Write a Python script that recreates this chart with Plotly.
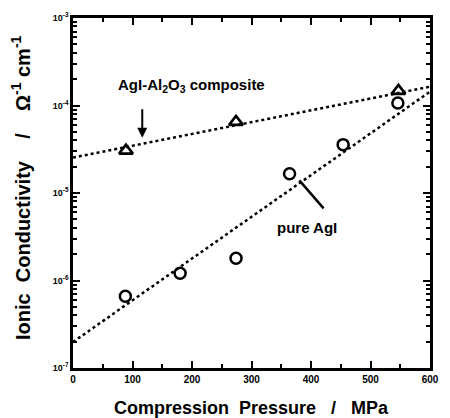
import plotly.graph_objects as go

# Data
pressure_pure = [88, 180, 274, 364, 454, 546]
sigma_pure = [6.6e-7, 1.21e-6, 1.8e-6, 1.66e-5, 3.57e-5, 1.07e-4]

pressure_comp = [89, 274, 547]
sigma_comp = [3.05e-5, 6.5e-5, 1.47e-4]

fit_x = [0, 600]
fit_pure = [1.98e-7, 1.44e-4]
fit_comp = [2.54e-5, 1.64e-4]

x_ticks = [0, 100, 200, 300, 400, 500, 600]
y_ticks = [1e-7, 1e-6, 1e-5, 1e-4, 1e-3]
y_ticktext = ["10<sup>-7</sup>", "10<sup>-6</sup>", "10<sup>-5</sup>",
              "10<sup>-4</sup>", "10<sup>-3</sup>"]

FONT = "Liberation Sans, Arial, sans-serif"

fig = go.Figure()
fig.add_trace(go.Scatter(x=fit_x, y=fit_comp, mode="lines",
                         line=dict(color="black", width=2.5, dash="dot"), showlegend=False))
fig.add_trace(go.Scatter(x=fit_x, y=fit_pure, mode="lines",
                         line=dict(color="black", width=2.5, dash="dot"), showlegend=False))
fig.add_trace(go.Scatter(x=pressure_pure, y=sigma_pure, mode="markers",
                         marker=dict(symbol="circle-open", size=11, color="black",
                                     line=dict(width=2.5, color="black")), showlegend=False))
fig.add_trace(go.Scatter(x=pressure_comp, y=sigma_comp, mode="markers",
                         marker=dict(symbol="triangle-up-open", size=12, color="black",
                                     line=dict(width=2.6, color="black")), showlegend=False))

minor_y = [m * 10.0 ** e for e in range(-7, -3) for m in range(2, 10)]

fig.update_xaxes(range=[0, 600], showgrid=False, zeroline=False,
                 showline=True, linecolor="black", linewidth=2.5, mirror="ticks",
                 ticks="inside", ticklen=7, tickwidth=2, tickcolor="black",
                 tickvals=x_ticks, ticktext=[str(v) for v in x_ticks],
                 tickfont=dict(family=FONT, size=10, color="black", weight="bold"),
                 minor=dict(tickvals=[50, 150, 250, 350, 450, 550], ticks="inside",
                            ticklen=4, tickwidth=2, tickcolor="black"))
fig.update_yaxes(type="log", range=[-7, -3], showgrid=False, zeroline=False,
                 showline=True, linecolor="black", linewidth=2.5, mirror="ticks",
                 ticks="inside", ticklen=7, tickwidth=2, tickcolor="black",
                 tickvals=y_ticks, ticktext=y_ticktext,
                 tickfont=dict(family=FONT, size=9, color="black", weight="bold"),
                 minor=dict(tickvals=minor_y, ticks="inside", ticklen=4, tickwidth=1.5,
                            tickcolor="black"))

annotations = [
    dict(text="AgI-Al<sub>2</sub>O<sub>3</sub> composite", x=0.332, y=0.806,
         xref="paper", yref="paper", showarrow=False, xanchor="center", yanchor="middle",
         font=dict(family=FONT, size=15, color="black", weight="bold")),
    dict(text="", x=0.194, y=0.658, xref="paper", yref="paper", showarrow=True,
         ax=0, ay=-30, arrowhead=2, arrowsize=1, arrowwidth=2, arrowcolor="black"),
    dict(text="pure AgI", x=0.656, y=0.402, xref="paper", yref="paper",
         showarrow=False, xanchor="center", yanchor="middle",
         font=dict(family=FONT, size=15, color="black", weight="bold")),
    dict(text="Compression  Pressure   /   MPa", x=0.5, y=-0.115, xref="paper",
         yref="paper", showarrow=False, xanchor="center", yanchor="middle",
         font=dict(family=FONT, size=18, color="black", weight="bold")),
    dict(text="Ionic  Conductivity    /    Ω<sup>-1</sup> cm<sup>-1</sup>", x=-0.145, y=0.515,
         xref="paper", yref="paper", showarrow=False, textangle=-90, xanchor="center",
         yanchor="middle",
         font=dict(family=FONT, size=20, color="black", weight="bold")),
]

fig.update_layout(
    width=450, height=418,
    margin=dict(l=73, r=11, t=17, b=50),
    paper_bgcolor="white", plot_bgcolor="white",
    annotations=annotations,
    shapes=[dict(type="line", xref="paper", yref="paper", x0=0.634, y0=0.536,
                 x1=0.702, y1=0.456, line=dict(color="black", width=2.5))],
)

fig.write_html("out.html")
